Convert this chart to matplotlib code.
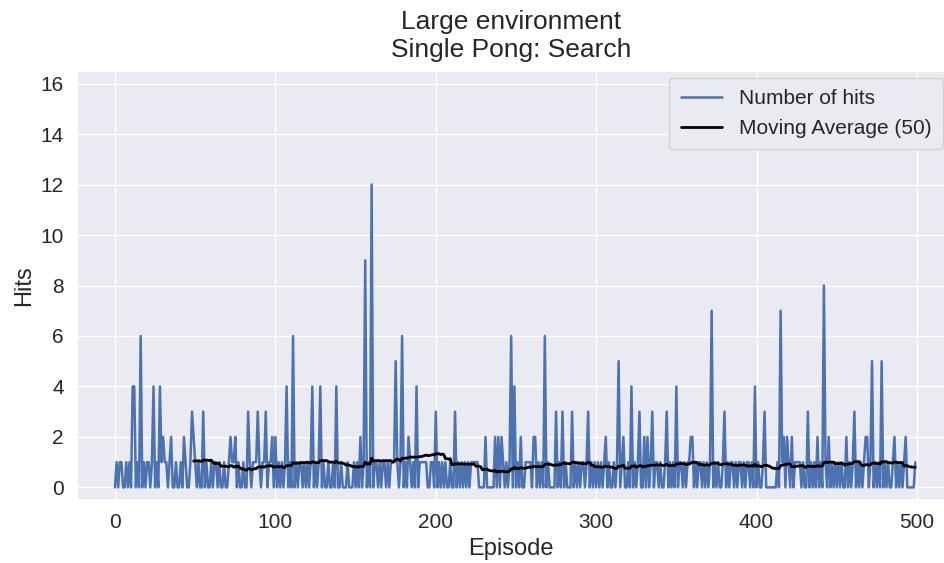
import matplotlib
matplotlib.use("Agg")
import matplotlib.pyplot as plt
import numpy as np
import pandas as pd
import seaborn as sns

# hits per episode in blocks of 50 episodes
hits_000 = [0, 1, 0, 1, 1, 0, 0, 1, 0, 1, 0, 4, 4, 0, 1, 0, 6, 0, 1, 0,
            1, 1, 0, 1, 4, 0, 1, 0, 4, 1, 2, 1, 1, 0, 1, 2, 0, 0, 1, 0,
            0, 1, 0, 2, 1, 0, 0, 1, 3, 2]
hits_050 = [1, 0, 1, 0, 0, 3, 0, 1, 0, 0, 1, 0, 1, 1, 0, 1, 0, 0, 1, 0,
            0, 1, 2, 1, 1, 2, 0, 1, 0, 0, 1, 0, 0, 3, 1, 0, 1, 1, 1, 3,
            1, 0, 1, 1, 3, 0, 1, 1, 2, 0]
hits_100 = [2, 0, 1, 0, 1, 0, 1, 4, 0, 1, 0, 6, 0, 1, 0, 1, 1, 0, 1, 0,
            1, 0, 1, 4, 0, 1, 0, 1, 4, 0, 1, 0, 0, 1, 0, 0, 1, 0, 4, 0,
            0, 1, 0, 0, 0, 1, 0, 0, 0, 1]
hits_150 = [0, 1, 0, 2, 0, 1, 9, 0, 1, 0, 12, 0, 1, 1, 0, 1, 0, 1, 1, 0,
            1, 0, 1, 1, 1, 5, 1, 0, 1, 6, 0, 1, 0, 2, 1, 0, 1, 0, 4, 0,
            1, 1, 1, 1, 1, 0, 0, 1, 1, 0]
hits_200 = [3, 0, 1, 0, 1, 0, 1, 0, 0, 1, 0, 0, 3, 0, 1, 0, 1, 0, 1, 0,
            1, 0, 1, 1, 1, 1, 1, 0, 0, 0, 0, 2, 0, 0, 0, 0, 0, 2, 0, 2,
            0, 2, 1, 0, 1, 0, 1, 6, 0, 4]
hits_250 = [0, 1, 0, 2, 0, 0, 1, 1, 1, 1, 0, 2, 2, 0, 1, 0, 1, 0, 6, 0,
            1, 0, 0, 0, 0, 3, 0, 1, 0, 3, 0, 1, 0, 0, 0, 3, 0, 1, 0, 1,
            0, 1, 1, 0, 1, 3, 0, 1, 0, 1]
hits_300 = [0, 1, 0, 1, 0, 1, 2, 0, 1, 0, 0, 1, 0, 1, 5, 0, 1, 2, 0, 0,
            1, 0, 4, 0, 1, 0, 1, 3, 0, 0, 2, 0, 2, 0, 1, 3, 0, 1, 1, 0,
            1, 0, 0, 1, 3, 0, 1, 0, 1, 0]
hits_350 = [4, 0, 1, 1, 0, 1, 0, 1, 1, 2, 2, 0, 1, 0, 1, 1, 0, 1, 0, 1,
            0, 1, 7, 0, 1, 0, 1, 0, 0, 1, 3, 0, 1, 0, 1, 1, 0, 1, 0, 1,
            1, 0, 1, 0, 1, 1, 0, 1, 0, 4]
hits_400 = [0, 1, 0, 0, 1, 3, 0, 0, 0, 0, 0, 0, 0, 1, 0, 7, 1, 2, 0, 2,
            1, 0, 2, 0, 1, 1, 1, 1, 0, 1, 0, 0, 3, 0, 1, 0, 1, 0, 2, 0,
            1, 0, 8, 1, 0, 2, 0, 1, 0, 1]
hits_450 = [0, 1, 0, 1, 0, 0, 2, 0, 1, 0, 1, 3, 0, 1, 0, 1, 0, 1, 2, 2,
            0, 1, 5, 0, 1, 0, 1, 0, 5, 0, 1, 0, 1, 0, 0, 1, 2, 0, 1, 0,
            1, 0, 1, 2, 0, 0, 0, 0, 0, 1]

WINDOW = 50
TITLE = "Large environment\nSingle Pong: Search"

hits = pd.Series(hits_000 + hits_050 + hits_100 + hits_150 + hits_200
                 + hits_250 + hits_300 + hits_350 + hits_400 + hits_450)
moving_avg = hits.rolling(WINDOW).mean()

sns.set_theme(style="darkgrid")
plt.rcParams["font.family"] = ["Liberation Sans", "DejaVu Sans"]

fig = plt.figure(figsize=(9.45, 5.63), dpi=100)
ax = fig.add_axes([77 / 945, 1 - 500 / 563, 868 / 945, 429 / 563])

ax.plot(hits.index, hits.values, color="#4c72b0", linewidth=1.8,
        label="Number of hits")
ax.plot(moving_avg.index, moving_avg.values, color="black", linewidth=2.0,
        label=f"Moving Average ({WINDOW})")

ax.set_xlim(-23.7, 517.5)
ax.set_ylim(-0.5, 16.5)
ax.set_yticks(np.arange(0, 17, 2))
ax.tick_params(labelsize=15)
ax.set_xlabel("Episode", fontsize=17)
ax.set_ylabel("Hits", fontsize=17)
ax.set_title(TITLE, fontsize=19, pad=10)
ax.legend(loc="upper right", fontsize=15, borderpad=0.55,
          bbox_to_anchor=(943 / 945, 1 - 78 / 563),
          bbox_transform=fig.transFigure, borderaxespad=0)

fig.savefig("out.png", dpi=100)
